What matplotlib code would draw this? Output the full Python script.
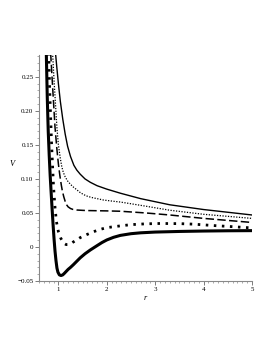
import matplotlib
matplotlib.use('Agg')
import matplotlib.pyplot as plt

# values
r_thick = [0.75, 0.77, 0.79, 0.81, 0.83, 0.85, 0.87, 0.89, 0.91, 0.93, 0.95, 0.97, 0.99, 1.02, 1.055, 1.09, 1.12, 1.16, 1.20, 1.25, 1.31, 1.38, 1.45, 1.55, 1.66, 1.8, 1.9, 2.0, 2.14, 2.28, 2.5, 2.7, 3.0, 3.5, 4.0, 4.5, 5.0]
v_thick = [0.285, 0.22, 0.17, 0.135, 0.105, 0.08, 0.056, 0.033, 0.012, -0.006, -0.020, -0.031, -0.037, -0.041, -0.042, -0.041, -0.039, -0.036, -0.033, -0.030, -0.026, -0.021, -0.016, -0.010, -0.0044, 0.002, 0.0065, 0.0103, 0.0142, 0.0170, 0.0195, 0.0208, 0.0219, 0.0228, 0.0234, 0.0238, 0.024]

r_bigdot = [0.80, 0.82, 0.84, 0.86, 0.88, 0.90, 0.93, 0.96, 1.0, 1.05, 1.11, 1.16, 1.21, 1.26, 1.30, 1.37, 1.45, 1.58, 1.73, 1.86, 2.0, 2.28, 2.5, 2.8, 3.1, 3.5, 3.8, 4.2, 4.6, 5.0]
v_bigdot = [0.285, 0.23, 0.19, 0.15, 0.118, 0.088, 0.058, 0.037, 0.0225, 0.0127, 0.0055, 0.0035, 0.0035, 0.005, 0.007, 0.010, 0.0137, 0.018, 0.0225, 0.0258, 0.0284, 0.031, 0.0328, 0.034, 0.0345, 0.0343, 0.0335, 0.0315, 0.0298, 0.028]

r_dash = [0.84, 0.87, 0.90, 0.93, 0.97, 1.0, 1.03, 1.06, 1.08, 1.11, 1.14, 1.17, 1.20, 1.25, 1.30, 1.38, 1.5, 1.6, 2.0, 2.28, 2.8, 3.3, 4.0, 4.5, 5.0]
v_dash = [0.285, 0.248, 0.212, 0.176, 0.143, 0.122, 0.105, 0.091, 0.083, 0.074, 0.067, 0.062, 0.059, 0.0565, 0.0552, 0.0543, 0.0538, 0.0535, 0.0530, 0.0525, 0.050, 0.047, 0.042, 0.039, 0.036]

r_fine = [0.88, 0.91, 0.94, 0.97, 1.0, 1.04, 1.07, 1.10, 1.14, 1.19, 1.25, 1.31, 1.38, 1.45, 1.52, 1.6, 1.7, 1.8, 1.93, 2.1, 2.28, 2.5, 2.8, 3.3, 4.0, 4.5, 5.0]
v_fine = [0.285, 0.245, 0.21, 0.175, 0.150, 0.130, 0.118, 0.110, 0.103, 0.097, 0.092, 0.088, 0.084, 0.080, 0.077, 0.0745, 0.0725, 0.071, 0.069, 0.0675, 0.0660, 0.0635, 0.060, 0.054, 0.048, 0.045, 0.042]

r_solid = [0.94, 0.97, 1.0, 1.04, 1.09, 1.14, 1.19, 1.25, 1.32, 1.38, 1.45, 1.55, 1.66, 1.80, 2.0, 2.28, 2.7, 3.3, 3.5, 4.0, 4.5, 5.0]
v_solid = [0.285, 0.262, 0.240, 0.214, 0.188, 0.166, 0.148, 0.133, 0.120, 0.113, 0.107, 0.100, 0.095, 0.090, 0.085, 0.079, 0.071, 0.062, 0.060, 0.055, 0.051, 0.047]

x_ticks = [1, 2, 3, 4, 5]
y_ticks = [-0.05, 0, 0.05, 0.10, 0.15, 0.20, 0.25]
y_labels = ['\u22120.05', '0', '0.05', '0.10', '0.15', '0.20', '0.25']

plt.rcParams['font.family'] = 'Liberation Serif'

fig = plt.figure(figsize=(2.73, 3.53), dpi=100)
ax = fig.add_axes([0.143, 0.204, 0.78, 0.64])

ax.plot(r_solid, v_solid, color='black', lw=1.0)
ax.plot(r_fine, v_fine, color='black', lw=0.9, linestyle=(0, (1, 1.2)))
ax.plot(r_dash, v_dash, color='black', lw=1.1, linestyle=(0, (5.5, 2.2)))
ax.plot(r_bigdot, v_bigdot, color='black', lw=2.0, linestyle=(0, (0.9, 2.0)))
ax.plot(r_thick, v_thick, color='black', lw=2.2)

ax.set_xlim(0.6, 5.0)
ax.set_ylim(-0.05, 0.282)

for s in ['top', 'right']:
    ax.spines[s].set_visible(False)
for s in ['left', 'bottom']:
    ax.spines[s].set_color('#888888')
    ax.spines[s].set_linewidth(0.8)

ax.set_xticks(x_ticks)
ax.set_xticks([0.6 + 0.1 * i for i in range(45)], minor=True)
ax.set_yticks(y_ticks)
ax.set_yticklabels(y_labels)
ax.set_yticks([-0.05 + 0.01 * i for i in range(34)], minor=True)
ax.tick_params(which='major', length=3, width=0.6, color='#666666', labelsize=5, pad=1)
ax.tick_params(which='minor', length=1.5, width=0.5, color='#888888')

ax.set_xlabel('r', fontsize=6, style='italic', labelpad=2)
ax.set_ylabel('V', fontsize=6, style='italic', rotation=0, labelpad=4)

fig.savefig('out.png', dpi=100)
